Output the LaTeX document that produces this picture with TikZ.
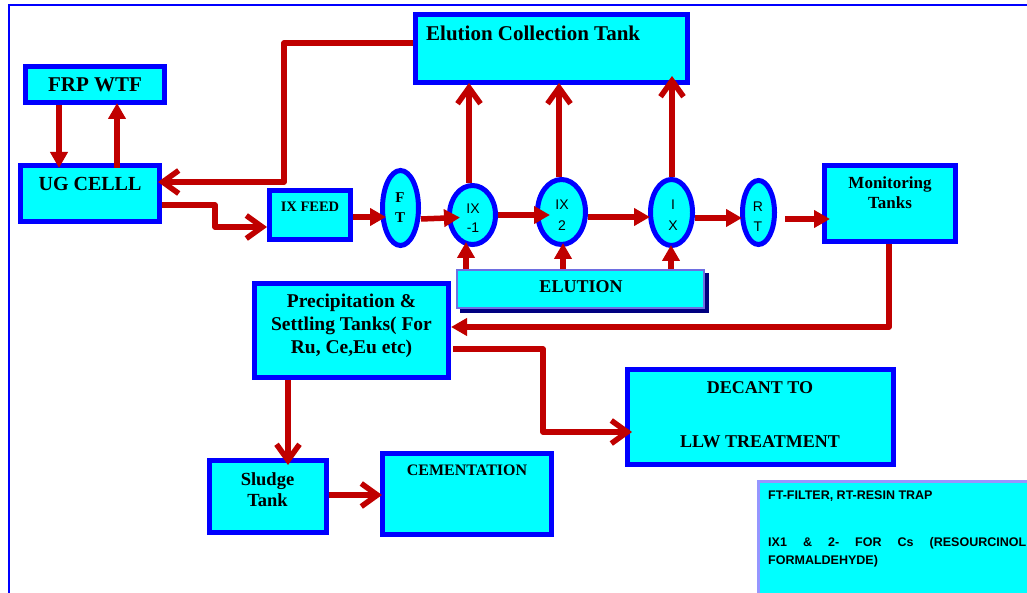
\documentclass[tikz,border=0pt]{standalone}
\usepackage{fontspec}
\setmainfont{Liberation Serif}
\newfontfamily\arialfont{Liberation Sans}
\usetikzlibrary{arrows.meta,shapes.geometric}
\definecolor{tankcyan}{HTML}{00FFFF}
\definecolor{tankblue}{HTML}{0000FF}
\definecolor{pipered}{HTML}{C00000}
\definecolor{elutionedge}{RGB}{110,110,225}
\definecolor{legendedge}{RGB}{150,150,255}
\definecolor{shadownavy}{HTML}{000080}
\newcommand\fsz[2]{\fontsize{#1}{#2}\selectfont}

\begin{document}
\begin{tikzpicture}[x=1pt,y=-1pt,
  tank/.style={rectangle, draw=tankblue, fill=tankcyan, line width=5pt, inner sep=0pt},
  column/.style={ellipse, draw=tankblue, fill=tankcyan, line width=5pt, inner sep=0pt},
  lbl/.style={inner sep=0pt, align=center},
  colsans/.style={inner sep=0pt, align=center, anchor=north},
  legendtxt/.style={inner sep=0pt, anchor=base west, font=\arialfont\bfseries\fsz{12.5}{18}},
  pipe/.style={draw=pipered, line width=5.5pt, line join=round},
  solidtip/.style={-{Triangle[length=16pt,width=17pt]}},
  opentip/.style={-{Straight Barb[length=16pt,width=23pt]}},
]
\useasboundingbox (0,0) rectangle (1027,593);
\fill[white] (0,0) rectangle (1027,593);

% page frame (top and left edges)
\draw[tankblue, line width=2pt] (8.5,593) -- (8.5,5.5) -- (1027,5.5);

% ---------- tanks ----------
\node[tank, minimum width=139pt, minimum height=36pt, font=\bfseries\fsz{21}{24}] (frp) at (95,84.5) {FRP WTF};
\node[tank, minimum width=139pt, minimum height=56pt] (ug) at (90,193.5) {};
\node[lbl, anchor=base, font=\bfseries\fsz{20}{24}] (ugtxt) at (90,191) {UG CELLL};

\node[tank, minimum width=272pt, minimum height=68pt] (ect) at (551.5,48.5) {};
\node[lbl, anchor=base west, font=\bfseries\fsz{21}{24}] (ecttxt) at (426,41) {Elution Collection Tank};

\node[tank, minimum width=81pt, minimum height=49pt] (ixfeed) at (310,215) {};
\node[lbl, anchor=base, font=\bfseries\fsz{14.5}{17}] (ixfeedtxt) at (310,212) {IX FEED};

\node[tank, minimum width=131pt, minimum height=76pt] (mon) at (890,203.5) {};
\node[lbl, anchor=north, font=\bfseries\fsz{17}{19.5}] (montxt) at (890,177) {Monitoring\\Tanks};

\node[tank, minimum width=194pt, minimum height=94pt] (precip) at (351.5,330.5) {};
\node[lbl, anchor=north, font=\bfseries\fsz{19.5}{23}] (preciptxt) at (351.5,293.5) {Precipitation \&\\Settling Tanks( For\\Ru, Ce,Eu etc)};

\node[tank, minimum width=117pt, minimum height=72pt] (sludge) at (268,496.5) {};
\node[lbl, anchor=north, font=\bfseries\fsz{18.5}{21}] (sludgetxt) at (267.5,472.5) {Sludge\\Tank};

\node[tank, minimum width=169pt, minimum height=81pt] (cem) at (467,494) {};
\node[lbl, anchor=base, font=\bfseries\fsz{16}{19}] (cemtxt) at (467,475) {CEMENTATION};

\node[tank, minimum width=266pt, minimum height=95pt] (decant) at (760.5,417) {};
\node[lbl, anchor=base, font=\bfseries\fsz{18}{21}] (decanttxt) at (760,393) {DECANT TO};
\node[lbl, anchor=base, font=\bfseries\fsz{18}{21}] (llwtxt) at (760,447) {LLW TREATMENT};

% elution header with its dark shadow
\fill[shadownavy] (460,273) rectangle (709,313);
\node[rectangle, draw=elutionedge, fill=tankcyan, line width=2pt, inner sep=0pt,
      minimum width=247pt, minimum height=38pt] (elution) at (580.5,289) {};
\node[lbl, anchor=base, font=\bfseries\fsz{18}{21}] (elutiontxt) at (581,293) {ELUTION};

% ---------- columns ----------
\node[column, minimum width=36pt, minimum height=75pt] (ft) at (400.5,208) {};
\node[lbl, anchor=north, font=\bfseries\fsz{15}{20}] (fttxt) at (400,192) {F\\T};
\node[column, minimum width=46pt, minimum height=59pt] (ix1) at (472.5,215) {};
\node[colsans, font=\arialfont\fsz{14}{19}] (ix1txt) at (473,204) {IX\\-1};
\node[column, minimum width=48pt, minimum height=65pt] (ix2) at (561.5,212) {};
\node[colsans, font=\arialfont\fsz{14}{21}] (ix2txt) at (562,200) {IX\\2};
\node[column, minimum width=42pt, minimum height=66pt] (ix3) at (671.5,212.5) {};
\node[colsans, font=\arialfont\fsz{14}{21}] (ix3txt) at (673,200) {I\\X};
\node[column, minimum width=32pt, minimum height=64pt] (rt) at (758.5,212.5) {};
\node[colsans, font=\arialfont\fsz{14}{20}] (rttxt) at (758,202) {R\\T};

% ---------- legend ----------
\node[rectangle, draw=legendedge, fill=tankcyan, line width=3pt, inner sep=0pt,
      minimum width=281.5pt, minimum height=123.5pt] (legend) at (899.25,543.25) {};
\node[legendtxt] (legend1) at (768,499) {FT-FILTER, RT-RESIN TRAP};
\node[legendtxt] (legend2) at (768,546)
  {\hbox to 258pt{IX1\hfill\&\hfill2-\hfill FOR\hfill Cs\hfill(RESOURCINOL}};
\node[legendtxt] (legend3) at (768,564) {FORMALDEHYDE)};

% ---------- pipework ----------
\draw[pipe, solidtip, shorten >=-5pt] (frp.south -| 59,0) -- (ug.north -| 59,0);
\draw[pipe, solidtip, shorten >=-2pt, shorten <=-5pt] (ug.north -| 117,0) -- (frp.south -| 117,0);
\draw[pipe, opentip, shorten >=-4pt] (ect.west |- 0,43) -- (284,43) -- (284,182) -- (ug.east |- 0,182);
\draw[pipe, opentip] (ug.east |- 0,205) -- (215,205) -- (215,227) -- (ixfeed.west |- 0,227);
\draw[pipe, solidtip, shorten >=-6pt] (ixfeed.east |- 0,217) -- (ft.west |- 0,217);
\draw[pipe, solidtip, shorten >=-13pt] (ft.east |- 0,219) -- (ix1.west |- 0,218);
\draw[pipe, solidtip, shorten >=-15pt] (ix1.east |- 0,215) -- (ix2.west |- 0,215);
\draw[pipe, solidtip, shorten >=-2pt] (ix2.east |- 0,217) -- (ix3.west |- 0,217);
\draw[pipe, solidtip, shorten >=-2pt] (ix3.east |- 0,218) -- (rt.west |- 0,218);
\draw[pipe, solidtip, shorten <=8pt, shorten >=-8pt] (rt.east |- 0,219) -- (mon.west |- 0,219);

\draw[pipe, solidtip, shorten >=-5pt] (elution.north -| 466,0) -- (ix1.south -| 466,0);
\draw[pipe, solidtip, shorten >=-4pt] (elution.north -| 563,0) -- (ix2.south -| 563,0);
\draw[pipe, solidtip, shorten >=-3pt] (elution.north -| 671,0) -- (ix3.south -| 671,0);

\draw[pipe, opentip, shorten >=-2pt] (ix1.north -| 469,0) -- (ect.south -| 469,0);
\draw[pipe, opentip, shorten >=-2pt] (ix2.north -| 559,0) -- (ect.south -| 559,0);
\draw[pipe, opentip, shorten >=-9pt] (ix3.north -| 672,0) -- (ect.south -| 672,0);

\draw[pipe, solidtip] (mon.south -| 889,0) -- (889,327) -- (precip.east |- 0,327);
\draw[pipe, opentip, shorten <=2pt, shorten >=-7pt] (precip.east |- 0,349) -- (543,349) -- (543,432) -- (decant.west |- 0,432);
\draw[pipe, opentip, shorten >=-7pt] (precip.south -| 288,0) -- (sludge.north -| 288,0);
\draw[pipe, opentip, shorten >=-2pt] (sludge.east |- 0,495) -- (cem.west |- 0,495);
\end{tikzpicture}
\end{document}
